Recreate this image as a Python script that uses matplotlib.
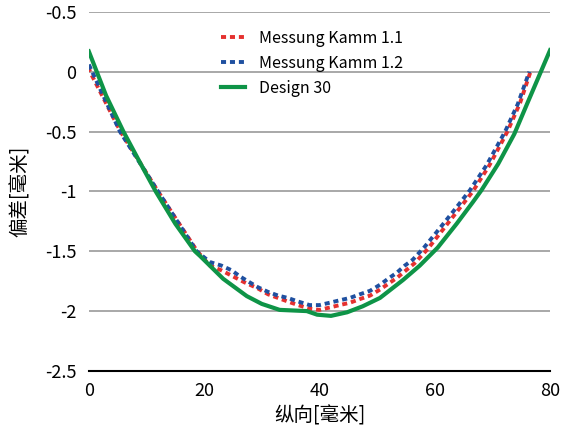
import matplotlib
matplotlib.use("Agg")
import matplotlib.pyplot as plt

plt.rcParams['font.family'] = ['Noto Sans CJK SC', 'DejaVu Sans']

# Series data
kamm11_x = [0, 0.2, 5.5, 12, 18.8, 21, 23, 25, 27, 29.3, 31.1, 32.8, 34.5, 36.3, 38.3, 40, 41.8, 43.5, 45.3, 47, 48.8, 50.5, 52, 53.5, 55, 56.5, 58.8, 61.4, 64, 66.6, 69.5, 72.6, 74.8, 76.6]
kamm11_y = [0.04, 0.0, -0.5, -1.0, -1.5, -1.62, -1.66, -1.71, -1.76, -1.81, -1.86, -1.89, -1.92, -1.95, -1.98, -1.99, -1.97, -1.95, -1.93, -1.9, -1.87, -1.82, -1.77, -1.72, -1.66, -1.6, -1.48, -1.32, -1.16, -1.0, -0.78, -0.5, -0.26, 0.0]

kamm12_x = [0, 5.4, 12, 18.7, 21, 23, 24.8, 26.2, 27.9, 29.3, 31.1, 32.8, 34.5, 36.3, 38.3, 40, 41.8, 43.5, 45.3, 47, 48.8, 50.5, 51.9, 53.4, 54.8, 56.2, 58.3, 61, 63.5, 66.1, 69, 72.2, 74.4, 76.4]
kamm12_y = [0.06, -0.5, -1.0, -1.5, -1.59, -1.62, -1.66, -1.71, -1.76, -1.8, -1.84, -1.87, -1.89, -1.92, -1.95, -1.95, -1.93, -1.91, -1.89, -1.86, -1.83, -1.78, -1.73, -1.68, -1.62, -1.57, -1.46, -1.3, -1.15, -0.99, -0.78, -0.5, -0.27, 0.0]

design_x = [0, 3, 6, 9, 11.6, 15, 18.4, 19.3, 23.3, 27.4, 30, 33.1, 37.8, 39.6, 42, 44.8, 47.5, 50.5, 54.5, 57.4, 60.5, 63.8, 66.6, 68.1, 71, 73.8, 76, 78.4, 80]
design_y = [0.17, -0.2, -0.5, -0.77, -1.0, -1.27, -1.5, -1.54, -1.73, -1.875, -1.94, -1.99, -2.0, -2.03, -2.04, -2.01, -1.96, -1.89, -1.74, -1.62, -1.47, -1.27, -1.09, -0.99, -0.77, -0.52, -0.27, 0.0, 0.18]

series_labels = ['Messung Kamm 1.1', 'Messung Kamm 1.2', 'Design 30']
x_ticks = [0, 20, 40, 60, 80]
y_ticks = [0.5, 0, -0.5, -1, -1.5, -2, -2.5]
y_tick_labels = ['-0.5', '0', '-0.5', '-1', '-1.5', '-2', '-2.5']
x_label = '纵向[毫米]'
y_label = '偏差[毫米]'

fig = plt.figure(figsize=(5.73, 4.40), dpi=100)
ax = fig.add_axes([0.155, 0.157, 0.805, 0.816])

dash = (0, (1.3, 1.0))
ax.plot(kamm11_x, kamm11_y, color='#E5312F', lw=2.8, ls=dash, label=series_labels[0], zorder=3)
ax.plot(kamm12_x, kamm12_y, color='#1F50A0', lw=2.8, ls=dash, label=series_labels[1], zorder=4)
ax.plot(design_x, design_y, color='#0E9447', lw=3.0, label=series_labels[2], zorder=5)

ax.set_xlim(0, 80)
ax.set_ylim(-2.5, 0.5)
ax.set_xticks(x_ticks)
ax.set_yticks(y_ticks)
ax.set_yticklabels(y_tick_labels)

for s in ['left', 'right', 'top']:
    ax.spines[s].set_visible(False)
ax.spines['bottom'].set_color('#000000')
ax.spines['bottom'].set_linewidth(1.5)
ax.grid(axis='y', color='#999999', lw=1.2)
ax.set_axisbelow(True)
ax.tick_params(axis='both', length=0, labelsize=13)
ax.tick_params(axis='y', pad=9)
ax.tick_params(axis='x', pad=8)

ax.set_xlabel(x_label, fontsize=14, labelpad=4)
ax.set_ylabel(y_label, fontsize=14, labelpad=10)

leg = ax.legend(loc='upper left', bbox_to_anchor=(0.255, 0.99), frameon=False,
                fontsize=11.5, handlelength=1.5, handletextpad=0.9, labelspacing=0.5)

fig.savefig('out.png', dpi=100)
